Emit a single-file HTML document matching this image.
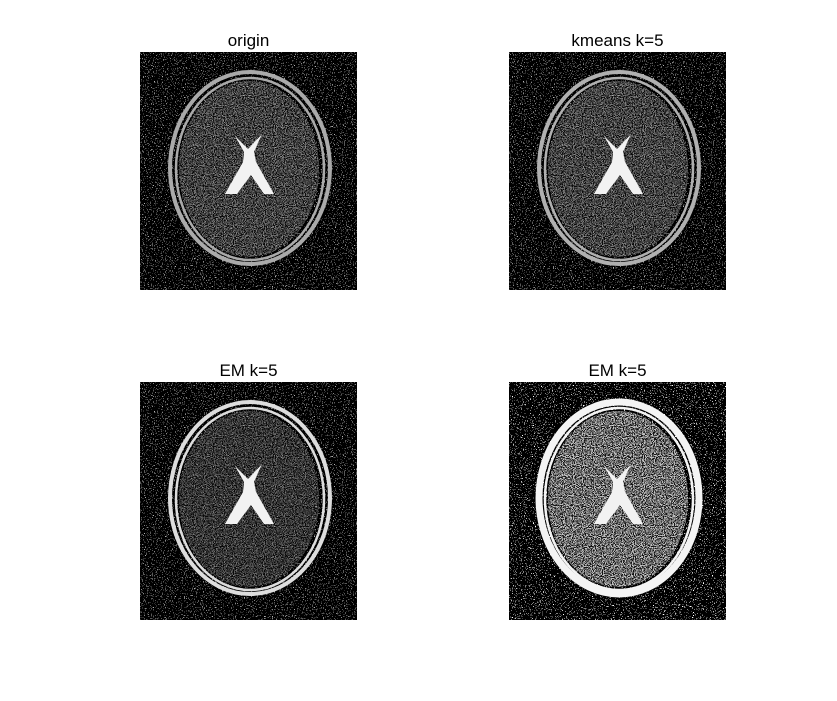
<!DOCTYPE html>
<html><head><meta charset="utf-8"><style>
html,body{margin:0;padding:0;background:#fff;}
body{width:837px;height:696px;position:relative;overflow:hidden;font-family:"Liberation Sans",sans-serif;}
</style></head><body>
<svg id="fig" width="837" height="696" xmlns="http://www.w3.org/2000/svg">
<defs>
<filter id="salt" x="0" y="0" width="100%" height="100%">
<feTurbulence type="fractalNoise" baseFrequency="0.9" numOctaves="1" seed="3"/>
<feColorMatrix type="matrix" values="0 0 0 0 1 0 0 0 0 1 0 0 0 0 1 1 0 0 0 0"/>
<feComponentTransfer><feFuncA type="discrete" tableValues="0 0 0 0 0 0 0 0 0 0 0 0 0 0.7 0.7 0.7 0.7 0.7 0.7 0.7"/></feComponentTransfer>
</filter>
<filter id="salt2" x="0" y="0" width="100%" height="100%">
<feTurbulence type="fractalNoise" baseFrequency="0.9" numOctaves="1" seed="7"/>
<feColorMatrix type="matrix" values="0 0 0 0 1 0 0 0 0 1 0 0 0 0 1 1 0 0 0 0"/>
<feComponentTransfer><feFuncA type="discrete" tableValues="0 0 0 0 0 0 0 0 0 0 0 0 0 1 1 1 1 1 1 1"/></feComponentTransfer>
</filter>
<filter id="pepper" x="0" y="0" width="100%" height="100%">
<feTurbulence type="fractalNoise" baseFrequency="0.9" numOctaves="1" seed="11"/>
<feColorMatrix type="matrix" values="0 0 0 0 0 0 0 0 0 0 0 0 0 0 0 1 0 0 0 0"/>
<feComponentTransfer><feFuncA type="discrete" tableValues="0 0 0 0 0 0.9 0.9 0.9 0.9 0.9"/></feComponentTransfer>
</filter>
</defs>
</svg>
<script>
const titles = ["origin","kmeans k=5","EM k=5","EM k=5"];
const panelX = [140,509,140,509];
const panelY = [52,52,382,382];
const brainGray = ["#6a6a6a","#6e6e6e","#555","#bbb"];
const skullGray = ["#aaa","#b0b0b0","#ddd","#f4f4f4"];
const svg = document.getElementById('fig');
const NS = "http://www.w3.org/2000/svg";
function mk(tag, attrs, parent){const e=document.createElementNS(NS,tag);for(const k in attrs)e.setAttribute(k,attrs[k]);(parent||svg).appendChild(e);return e;}
for(let i=0;i<4;i++){
  const g = mk('g',{transform:`translate(${panelX[i]},${panelY[i]})`});
  
  
  const bg = mk('rect',{x:0,y:0,width:217,height:238,fill:'#000'},g);
  
  
  mk('rect',{x:0,y:0,width:217,height:238,fill:'#fff',filter:i==3?'url(#salt2)':'url(#salt)'},g);
  const cid='clip'+i;
  const cp=mk('clipPath',{id:cid},g);
  mk('ellipse',{cx:109,cy:117,rx:70,ry:88},cp);
  const skull = mk('ellipse',{cx:110,cy:116,rx:80,ry:96,fill:'none',stroke:skullGray[i],'stroke-width':i==3?7:4},g);
  
  
  mk('ellipse',{cx:110,cy:117,rx:74,ry:91,fill:'none',stroke:skullGray[i],'stroke-width':2.5},g);
  const brain = mk('ellipse',{cx:109,cy:117,rx:70,ry:88,fill:brainGray[i]},g);
  
  
  const tg = mk('g',{'clip-path':`url(#${cid})`},g);
  mk('rect',{x:0,y:0,width:217,height:238,fill:'#000',filter:'url(#pepper)'},tg);
  mk('rect',{x:0,y:0,width:217,height:238,fill:'#fff',filter:'url(#salt)',opacity:0.6},tg);
  const v = mk('path',{d:'M95 84 L108 97 L122 82 L114 100 L116 110 L134 142 L124 142 L111 123 L97 142 L85 142 L103 110 L104 100 Z',fill:'#f2f2f2'},g);
  
  
  const t = mk('text',{x:panelX[i]+108.5,y:panelY[i]-6,'text-anchor':'middle','font-size':17,fill:'#000','font-family':'Liberation Sans, sans-serif'});
  t.textContent = titles[i];
  
  
}
</script>
</body></html>
